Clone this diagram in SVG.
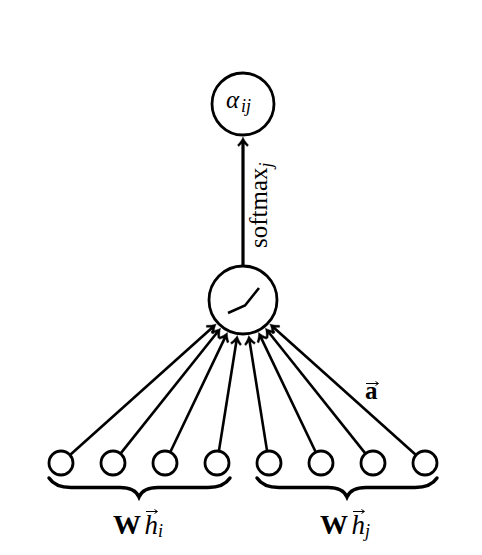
<svg xmlns="http://www.w3.org/2000/svg" width="482" height="555" viewBox="0 0 482 555">
<style>
.n{fill:#fff;stroke:#000;stroke-width:2.8}
.e{fill:none;stroke:#000;stroke-width:2.600;marker-end:url(#a)}
.t{stroke-width:3.200}
.b{fill:none;stroke:#000;stroke-width:3.400;stroke-linecap:round}
.v{fill:none;stroke:#000;stroke-width:1}
text{font-family:"Liberation Serif",serif;fill:#000}
.i{font-style:italic}
.w{font-weight:bold}
</style>
<defs>
<marker id="a" markerUnits="userSpaceOnUse" markerWidth="14" markerHeight="14" refX="7" refY="6" viewBox="0 0 14 12" orient="auto">
<path d="M11 6 C8.500 5 5.500 3 3 0.500 L1.500 1.800 C3.500 3.500 4.500 4.800 5.500 6 C4.500 7.200 3.500 8.500 1.500 10.200 L3 11.500 C5.500 9 8.500 7 11 6Z" fill="#000" stroke="#000" stroke-width="0.400"/>
</marker>
</defs>
<g id="connectors">
<line class="e t" x1="243" y1="266" x2="243" y2="141"/>
<line class="e" x1="70" y1="455" x2="213.200" y2="326.700"/>
<line class="e" x1="120.500" y1="453.600" x2="218.100" y2="331.300"/>
<line class="e" x1="170.200" y1="452.200" x2="225.700" y2="336.100"/>
<line class="e" x1="218.900" y1="451.100" x2="236.700" y2="339.500"/>
<line class="e" x1="267.100" y1="451.100" x2="249.300" y2="339.500"/>
<line class="e" x1="315.800" y1="452.200" x2="260.300" y2="336.100"/>
<line class="e" x1="365.500" y1="453.600" x2="267.900" y2="331.300"/>
<line class="e" x1="416" y1="455" x2="272.800" y2="326.700"/>
</g>
<g id="alpha">
<circle class="n" cx="243" cy="104" r="31"/>
<text x="226" y="108" font-size="25" class="i">α</text>
<text x="241" y="112" font-size="18" class="i">ij</text>
</g>
<g id="softmax">
<circle class="n" cx="243" cy="300" r="34"/>
<path d="M228 313 L245 305.500 L259 288" fill="none" stroke="#000" stroke-width="2.600"/>
</g>
<g id="h1"><circle class="n" cx="61" cy="463" r="12"/></g>
<g id="h2"><circle class="n" cx="113" cy="463" r="12"/></g>
<g id="h3"><circle class="n" cx="165" cy="463" r="12"/></g>
<g id="h4"><circle class="n" cx="217" cy="463" r="12"/></g>
<g id="h5"><circle class="n" cx="269" cy="463" r="12"/></g>
<g id="h6"><circle class="n" cx="321" cy="463" r="12"/></g>
<g id="h7"><circle class="n" cx="373" cy="463" r="12"/></g>
<g id="h8"><circle class="n" cx="425" cy="463" r="12"/></g>
<g id="braces">
<path class="b" d="M49 478 C53 484 59 487.500 71 487.500 L120 487.500 C130 487.500 136 490 139 497 C142 490 148 487.500 158 487.500 L208 487.500 C220 487.500 226 484 230 478"/>
<path class="b" d="M257 478 C261 484 267 487.500 279 487.500 L328 487.500 C338 487.500 344 490 347 497 C350 490 356 487.500 366 487.500 L415 487.500 C427 487.500 433 484 437 478"/>
</g>
<g id="labels">
<text transform="translate(267 248) rotate(-90)" font-size="25">softmax<tspan class="i" font-size="18" dy="5">j</tspan></text>
<text x="365" y="399" font-size="25" class="w">a</text>
<path class="v" d="M366 383.500H378M375.500 381.500L378.500 383.500L375.500 385.500"/>
<text x="113" y="534" font-size="28" class="w">W</text>
<text x="144.500" y="534" font-size="27" class="i">h<tspan font-size="18" dy="3">i</tspan></text>
<path class="v" d="M146 511.500H157M154.500 509.500L157.500 511.500L154.500 513.500"/>
<text x="320" y="534" font-size="28" class="w">W</text>
<text x="351.500" y="534" font-size="27" class="i">h<tspan font-size="18" dy="3">j</tspan></text>
<path class="v" d="M353 511.500H364M361.500 509.500L364.500 511.500L361.500 513.500"/>
</g>
</svg>
